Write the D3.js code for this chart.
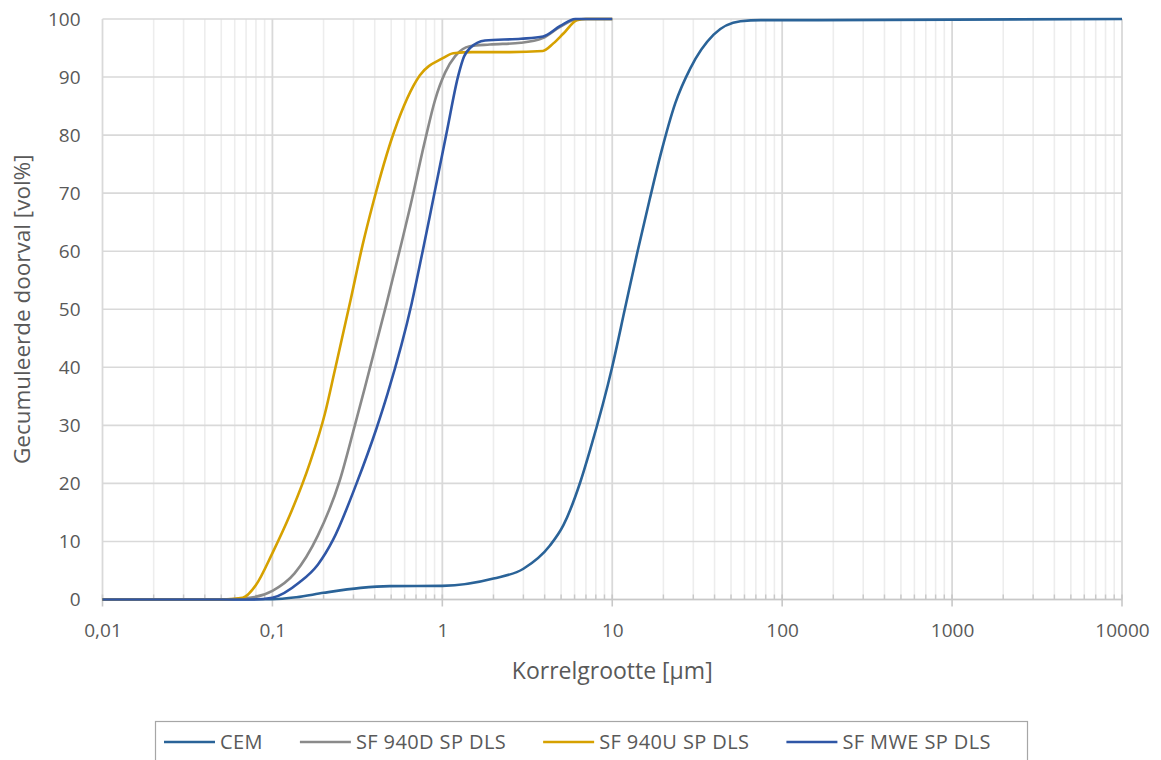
<!DOCTYPE html>
<html>
<head>
<meta charset="utf-8">
<script src="https://cdn.jsdelivr.net/npm/d3@7"></script>
<style>
  body { margin: 0; background: #fff; }
  svg { display: block; }
  text { font-family: "Open Sans", sans-serif; fill: #595959; }
</style>
</head>
<body>
<svg id="chart" width="1161" height="760"></svg>
<script>
// Axis ticks
const xTickValues = [0.01, 0.1, 1, 10, 100, 1000, 10000];
const xTickLabels = ["0,01", "0,1", "1", "10", "100", "1000", "10000"];
const yTickValues = [0, 10, 20, 30, 40, 50, 60, 70, 80, 90, 100];

// Series: grain size [µm] and cumulative passing [vol%]
const seriesNames = ["CEM", "SF 940D SP DLS", "SF 940U SP DLS", "SF MWE SP DLS"];
const seriesColors = ["#2a6398", "#8a8a8a", "#d6a100", "#2f56a6"];

const cemSize = [0.01, 0.05, 0.1, 0.1385, 0.2, 0.33, 0.49, 1.0, 2.0, 3.0, 4.3, 5.16, 6.48, 7.43, 10.0, 11.9, 14.1, 16.6, 19.2, 23.5, 28.8, 39.5, 56.8, 75, 100, 1000, 10000];
const cemPassing = [0, 0, 0.05, 0.4, 1.15, 2.0, 2.3, 2.35, 3.6, 5.3, 9.3, 12.8, 20.2, 25.9, 40.1, 50.2, 60, 68.9, 76.5, 85.5, 91.5, 97.3, 99.6, 99.8, 99.8, 99.9, 100];

const sf940dSize = [0.01, 0.05, 0.0735, 0.1, 0.135, 0.185, 0.249, 0.3056, 0.35, 0.47, 0.576, 0.645, 0.79, 0.905, 1.04, 1.19, 1.45, 1.9, 2.9, 3.9, 4.9, 5.9, 7, 10];
const sf940dPassing = [0, 0, 0.3, 1.5, 4.5, 11, 20.5, 30, 36.5, 51, 61.5, 67.5, 79, 86, 90.8, 93.6, 95.3, 95.6, 95.9, 96.7, 98.6, 99.8, 100, 100];

const sf940uSize = [0.01, 0.05, 0.0668, 0.08, 0.1, 0.1265, 0.166, 0.2036, 0.233, 0.288, 0.339, 0.389, 0.519, 0.738, 1.0, 1.16, 1.5, 2.5, 3.9, 4.5, 5.16, 6.2, 7, 10];
const sf940uPassing = [0, 0, 0.3, 2.5, 8, 14.5, 23.5, 32, 39.5, 51.5, 61, 68, 80.5, 90.3, 93.2, 94.1, 94.3, 94.3, 94.5, 95.8, 97.5, 99.8, 100, 100];

const sfMweSize = [0.01, 0.05, 0.0766, 0.1, 0.145, 0.185, 0.2277, 0.3128, 0.41, 0.4766, 0.66, 0.766, 0.857, 1.061, 1.242, 1.34, 1.455, 1.784, 2.9, 3.92, 4.94, 6.05, 7, 10];
const sfMwePassing = [0, 0, 0, 0.3, 3.0, 6.0, 10.3, 20, 29.5, 35.5, 51, 60, 67, 80.5, 90.3, 93.5, 95.0, 96.3, 96.6, 97.0, 98.8, 100, 100, 100];

const seriesData = [
  d3.zip(cemSize, cemPassing),
  d3.zip(sf940dSize, sf940dPassing),
  d3.zip(sf940uSize, sf940uPassing),
  d3.zip(sfMweSize, sfMwePassing)
];

const svg = d3.select("#chart");
const x = d3.scaleLog().domain([0.01, 10000]).range([102.5, 1122]);
const y = d3.scaleLinear().domain([0, 100]).range([599.5, 19]);

// Minor logarithmic positions (2..9 within each decade)
const minorValues = [];
for (let e = -2; e < 4; e++) {
  for (let k = 2; k <= 9; k++) minorValues.push(k * Math.pow(10, e));
}

const grid = svg.append("g");
grid.selectAll("line.minor").data(minorValues).join("line")
  .attr("x1", d => x(d)).attr("x2", d => x(d))
  .attr("y1", y(100)).attr("y2", y(0))
  .attr("stroke", "#ededed").attr("stroke-width", 1.6);
grid.selectAll("line.hgrid").data(yTickValues).join("line")
  .attr("x1", x(0.01)).attr("x2", x(10000))
  .attr("y1", d => y(d)).attr("y2", d => y(d))
  .attr("stroke", "#d9d9d9").attr("stroke-width", 1.6);
grid.selectAll("line.major").data(xTickValues).join("line")
  .attr("x1", d => x(d)).attr("x2", d => x(d))
  .attr("y1", y(100)).attr("y2", y(0))
  .attr("stroke", "#d9d9d9").attr("stroke-width", 1.8);

// Tick marks on the horizontal axis
const ticks = svg.append("g");
ticks.selectAll("line.mt").data(minorValues).join("line")
  .attr("x1", d => x(d)).attr("x2", d => x(d))
  .attr("y1", y(0) - 5).attr("y2", y(0))
  .attr("stroke", "#c8c8c8").attr("stroke-width", 1.4);
ticks.selectAll("line.Mt").data(xTickValues).join("line")
  .attr("x1", d => x(d)).attr("x2", d => x(d))
  .attr("y1", y(0) - 5).attr("y2", y(0) + 7)
  .attr("stroke", "#c8c8c8").attr("stroke-width", 1.6);
ticks.append("line")
  .attr("x1", x(0.01)).attr("x2", x(10000))
  .attr("y1", y(0)).attr("y2", y(0))
  .attr("stroke", "#c8c8c8").attr("stroke-width", 1.6);

// Axis labels
const xAxis = d3.axisBottom(x).tickValues(xTickValues)
  .tickFormat((d, i) => xTickLabels[i]).tickSize(0).tickPadding(24);
const gx = svg.append("g").attr("transform", `translate(0,${y(0)})`).call(xAxis);
gx.select(".domain").remove();
gx.selectAll("text").style("font-size", "19px").style("font-family", "'Open Sans', sans-serif").attr("fill", "#595959");

const yAxis = d3.axisLeft(y).tickValues(yTickValues).tickSize(0).tickPadding(22);
const gy = svg.append("g").attr("transform", `translate(${x(0.01)},0)`).call(yAxis);
gy.select(".domain").remove();
gy.selectAll("text").style("font-size", "19px").style("font-family", "'Open Sans', sans-serif").attr("fill", "#595959");

svg.append("text")
  .attr("x", (x(0.01) + x(10000)) / 2).attr("y", 679)
  .attr("text-anchor", "middle").style("font-size", "23px")
  .text("Korrelgrootte [µm]");

svg.append("text")
  .attr("transform", `translate(30,${(y(0) + y(100)) / 2}) rotate(-90)`)
  .attr("text-anchor", "middle").style("font-size", "22.5px")
  .text("Gecumuleerde doorval [vol%]");

// Curves
const line = d3.line()
  .x(d => x(d[0])).y(d => y(d[1]))
  .curve(d3.curveMonotoneX);

svg.append("g").selectAll("path").data(seriesData).join("path")
  .attr("d", line)
  .attr("fill", "none")
  .attr("stroke", (d, i) => seriesColors[i])
  .attr("stroke-width", 2.6)
  .attr("stroke-linejoin", "round");

// Legend
const legend = svg.append("g");
legend.append("rect")
  .attr("x", 155.5).attr("y", 721.5).attr("width", 872).attr("height", 60)
  .attr("fill", "none").attr("stroke", "#a6a6a6").attr("stroke-width", 1.2);

let lx = 164;
seriesNames.forEach((name, i) => {
  const item = legend.append("g");
  item.append("line")
    .attr("x1", lx).attr("x2", lx + 51)
    .attr("y1", 742).attr("y2", 742)
    .attr("stroke", seriesColors[i]).attr("stroke-width", 2.6);
  const t = item.append("text")
    .attr("x", lx + 56).attr("y", 749)
    .style("font-size", "20px")
    .style("letter-spacing", "0.4px")
    .text(name);
  lx = lx + 56 + t.node().getComputedTextLength() + 37;
});
</script>
</body>
</html>
